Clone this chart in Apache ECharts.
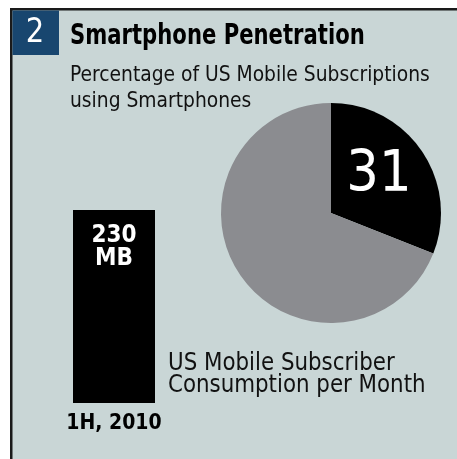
<!DOCTYPE html>
<html><head><meta charset="utf-8">
<script src="https://cdn.jsdelivr.net/npm/echarts@6/dist/echarts.min.js"></script>
<style>html,body{margin:0;padding:0;background:#fff}#c{width:457px;height:459px}</style>
</head><body><div id="c"></div>
<script>
const barCategories = ['1H, 2010'];
const barValues = [230];
const barUnit = 'MB';
const pieNames = ['Smartphones', 'Other phones'];
const pieValues = [31, 69];

const FN = "'Liberation Sans Narrow','DejaVu Sans Condensed','Arial Narrow',sans-serif";
const chart = echarts.init(document.getElementById('c'), null, {renderer: 'canvas'});
chart.setOption({
  animation: false,
  backgroundColor: '#ffffff',
  graphic: [
    {type: 'rect', shape: {x: 10, y: 8, width: 447, height: 451}, style: {fill: '#c9d6d6'}, z: -10},
    {type: 'rect', shape: {x: 10, y: 8, width: 447, height: 2.5}, style: {fill: '#1a1a1a'}, z: -9},
    {type: 'rect', shape: {x: 10, y: 8, width: 2.5, height: 451}, style: {fill: '#1a1a1a'}, z: -9},
    {type: 'rect', shape: {x: 12.5, y: 10.5, width: 46.5, height: 44.5}, style: {fill: '#18466f'}, z: -8},
    {type: 'text', x: 35, y: 33, scaleX: 0.95, style: {text: '2', fill: '#fff', font: '300 34px ' + FN, textAlign: 'center', textVerticalAlign: 'middle'}},
    {type: 'text', x: 70, y: 37, scaleX: 0.84, style: {text: 'Smartphone Penetration', fill: '#000', font: 'bold 28px ' + FN, textVerticalAlign: 'middle'}},
    {type: 'text', x: 70, y: 62, scaleX: 0.945, style: {text: 'Percentage of US Mobile Subscriptions\nusing Smartphones', fill: '#111', font: '22px ' + FN, lineHeight: 26, textVerticalAlign: 'top'}},
    {type: 'text', x: 168, y: 352, scaleX: 0.95, style: {text: 'US Mobile Subscriber\nConsumption per Month', fill: '#111', font: '25px ' + FN, lineHeight: 22, textVerticalAlign: 'top'}}
  ],
  grid: {left: 73, top: 210, width: 82, height: 193},
  xAxis: {
    type: 'category', data: barCategories,
    axisLine: {show: false}, axisTick: {show: false},
    axisLabel: {color: '#000', fontFamily: FN, fontWeight: 'bold', fontSize: 21, margin: 10}
  },
  yAxis: {type: 'value', min: 0, max: 230, show: false, splitLine: {show: false}},
  series: [
    {
      type: 'bar', data: barValues, barWidth: '100%',
      itemStyle: {color: '#000'},
      label: {show: true, position: 'insideTop', distance: 14, color: '#fff', fontFamily: FN, fontWeight: 'bold', fontSize: 24, lineHeight: 23,
        formatter: p => p.value + '\n' + barUnit}
    },
    {
      type: 'pie', center: [331, 213], radius: 110, startAngle: 90, clockwise: true,
      labelLine: {show: false},
      data: pieNames.map((n, i) => ({
        name: n, value: pieValues[i],
        itemStyle: {color: i === 0 ? '#000' : '#8b8c90'},
        label: i === 0 ? {show: true, position: 'inside', formatter: '{c}', color: '#fff', fontFamily: FN, fontSize: 57, fontWeight: 300, offset: [0, -4]} : {show: false}
      }))
    }
  ]
});
</script></body></html>
